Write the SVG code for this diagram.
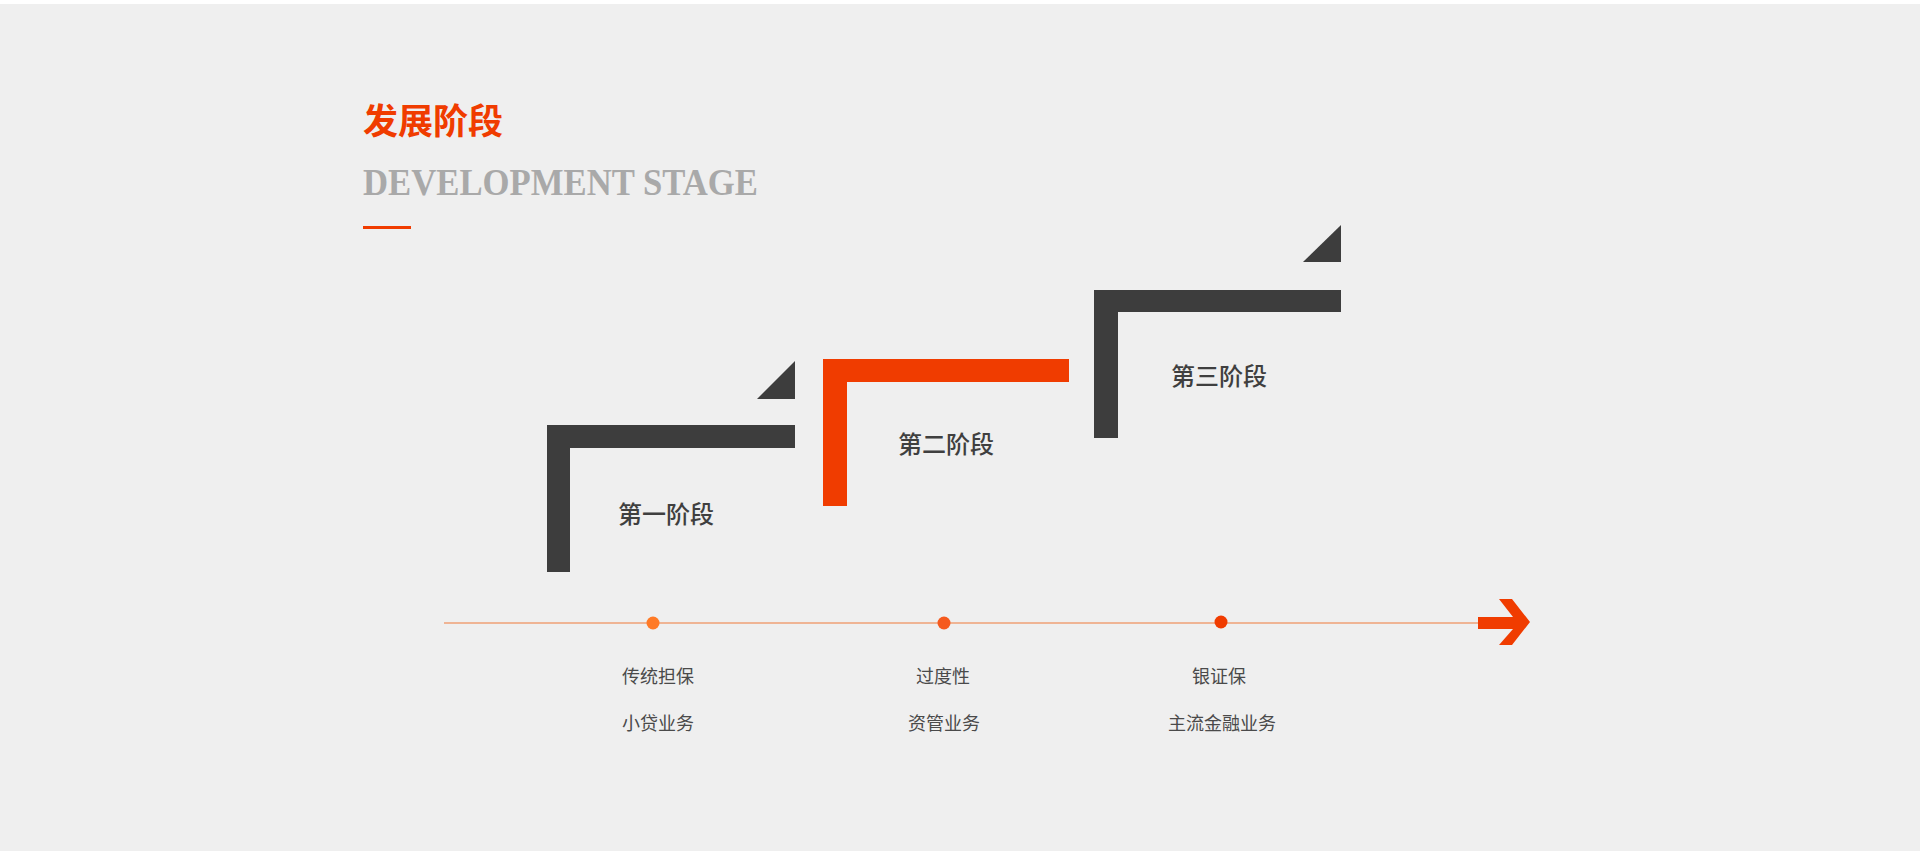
<svg xmlns="http://www.w3.org/2000/svg" width="1920" height="851" viewBox="0 0 1920 851">
<style>
.bg{fill:#efefef}
.dark{fill:#3d3d3d}
.red{fill:#f03c00}
.stage{font-family:"Noto Sans CJK SC","Noto Sans",sans-serif;font-size:24px;font-weight:500;fill:#3f3f3f}
.lbl{font-family:"Noto Sans CJK SC","Noto Sans",sans-serif;font-size:18px;fill:#4a4a4a;text-anchor:middle}
</style>
<rect x="0" y="0" width="1920" height="851" fill="#ffffff"/>
<rect class="bg" x="0" y="4" width="1920" height="847"/>
<g id="title">
<text x="363" y="134" font-family="'Liberation Serif','Noto Sans CJK SC',serif" font-size="35" font-weight="bold" fill="#f03c00">发展阶段</text>
<text x="363" y="195" font-family="'Liberation Serif',serif" font-size="38" font-weight="bold" fill="#a9a9a9" textLength="395" lengthAdjust="spacingAndGlyphs">DEVELOPMENT STAGE</text>
<rect class="red" x="363" y="226" width="48" height="3"/>
</g>
<g id="stage1">
<path class="dark" d="M547,425 H795 V448 H570 V572 H547 Z"/>
<polygon class="dark" points="795,361 795,399 757,399"/>
<text class="stage" x="618" y="523">第一阶段</text>
</g>
<g id="stage2">
<path class="red" d="M823,359 H1069 V382 H847 V506 H823 Z"/>
<text class="stage" x="898" y="453">第二阶段</text>
</g>
<g id="stage3">
<path class="dark" d="M1094,290 H1341 V312 H1118 V438 H1094 Z"/>
<polygon class="dark" points="1341,225 1341,262 1303,262"/>
<text class="stage" x="1171" y="385">第三阶段</text>
</g>
<g id="connectors">
<line x1="444" y1="623" x2="1480" y2="623" stroke="#f07a3a" stroke-width="1.2"/>
<polygon class="red" points="1478,617 1513,617 1499,599 1512,599 1530,622 1512,645 1499,645 1513,629 1478,629"/>
</g>
<g id="point1">
<circle cx="653" cy="623" r="6.5" fill="#ff7a26"/>
<text class="lbl" x="658" y="683">传统担保</text>
<text class="lbl" x="658" y="730">小贷业务</text>
</g>
<g id="point2">
<circle cx="944" cy="623" r="6.5" fill="#f55a1e"/>
<text class="lbl" x="943" y="683">过度性</text>
<text class="lbl" x="944" y="730">资管业务</text>
</g>
<g id="point3">
<circle cx="1221" cy="622" r="6.5" fill="#f03c00"/>
<text class="lbl" x="1219" y="683">银证保</text>
<text class="lbl" x="1222" y="730">主流金融业务</text>
</g>
</svg>
